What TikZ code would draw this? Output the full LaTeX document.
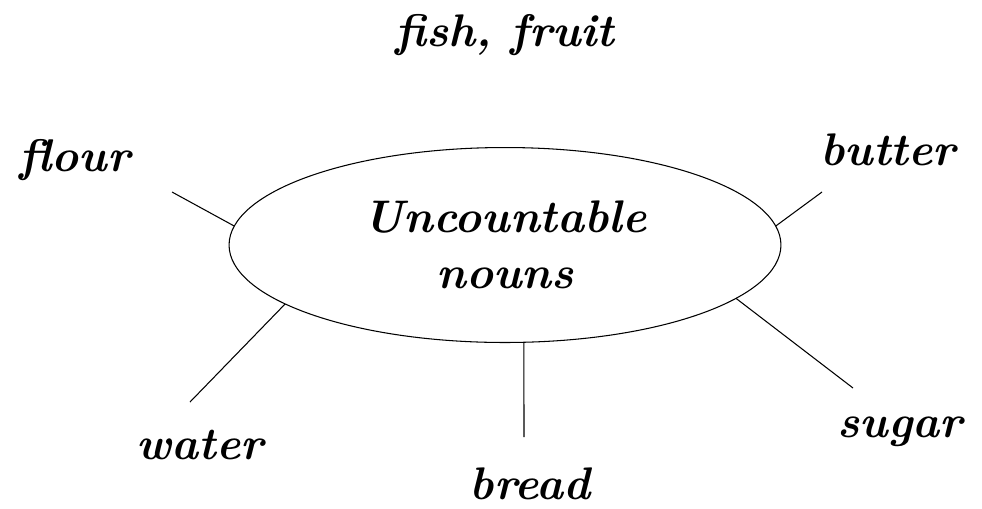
\documentclass[tikz,border=0pt]{standalone}
\usetikzlibrary{shapes.geometric}
\begin{document}
\begin{tikzpicture}[x=0.02cm, y=-0.02cm,
          word/.style={font=\fontsize{26}{32}\selectfont\bfseries\itshape},
          spoke/.style={draw, line width=0.6pt}]
        \useasboundingbox (0,0) rectangle (982,508);
        \node[draw, ellipse, line width=0.6pt, minimum width=11.04cm, minimum height=3.9cm, inner sep=0pt, outer sep=0pt, align=center, word] (hub) at (505,245) {Uncountable\\nouns};
        \node[word] (fish) at (505,35) {fish, fruit};
        \node[word] (flour) at (75,160) {flour};
        \node[word] (butter) at (888,150) {butter};
        \node[word] (water) at (200,445) {water};
        \node[word] (bread) at (530,484) {bread};
        \node[word] (sugar) at (900,432) {sugar};
        \coordinate (flourE) at (172,192);
        \coordinate (butterE) at (822,192);
        \coordinate (waterE) at (190,402);
        \coordinate (breadE) at (524,437);
        \coordinate (sugarE) at (853,388);
        \foreach \a/\b in {176/flourE, 4/butterE, 195/waterE, 281/breadE, 347/sugarE} { \draw[spoke] (hub.\a) -- (\b); }
      \end{tikzpicture}
\end{document}
